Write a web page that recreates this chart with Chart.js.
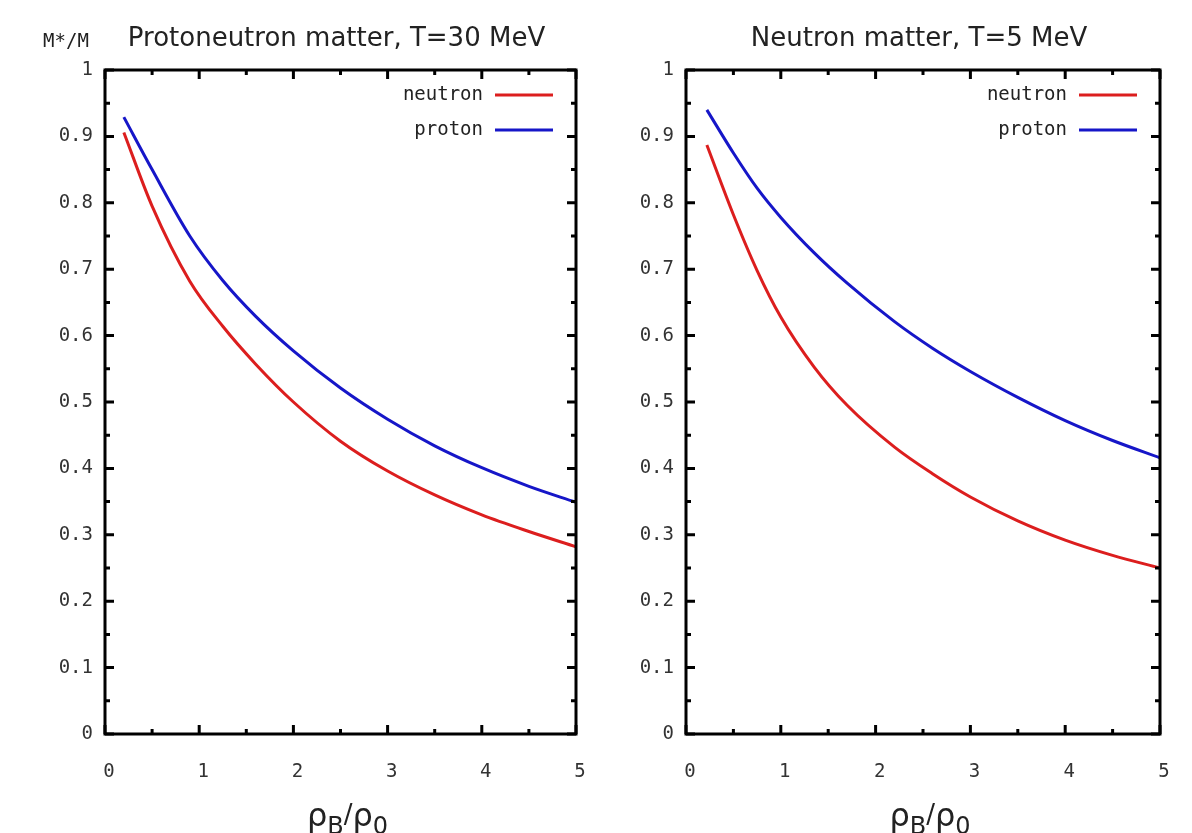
<!DOCTYPE html>
<html>
<head>
<meta charset="utf-8">
<script src="https://cdn.jsdelivr.net/npm/chart.js@4.4.0/dist/chart.umd.min.js"></script>
<style>
  html, body { margin: 0; padding: 0; background: #fff; }
  .panel { position: absolute; top: 0; width: 596px; height: 833px; }
</style>
</head>
<body>
<div class="panel" style="left:0"><canvas id="pnmChart" width="596" height="833"></canvas></div>
<div class="panel" style="left:596px"><canvas id="nmChart" width="596" height="833"></canvas></div>
<script>
// protoneutron matter, T = 30 MeV
const pnmDensity = [0.2, 0.5, 0.9, 1.25, 1.6, 2.0, 2.5, 3.0, 3.5, 4.0, 4.5, 5.0];
const pnmNeutron = [0.906, 0.795, 0.682, 0.614, 0.557, 0.500, 0.441, 0.396, 0.360, 0.330, 0.305, 0.282];
const pnmProton  = [0.929, 0.850, 0.750, 0.683, 0.629, 0.577, 0.521, 0.474, 0.434, 0.401, 0.373, 0.349];

// neutron matter, T = 5 MeV
const nmDensity = [0.22, 0.5, 0.75, 1.0, 1.35, 1.7, 2.2, 2.6, 3.0, 3.5, 4.0, 4.5, 5.0];
const nmNeutron = [0.887, 0.782, 0.698, 0.628, 0.553, 0.495, 0.432, 0.392, 0.357, 0.321, 0.292, 0.269, 0.250];
const nmProton  = [0.940, 0.875, 0.822, 0.778, 0.725, 0.679, 0.621, 0.581, 0.546, 0.507, 0.472, 0.442, 0.416];

const seriesNames = ['neutron', 'proton'];
const seriesColors = ['#dc1e1e', '#1616c8'];

const monoFont = '"DejaVu Sans Mono", monospace';
const sansFont = '"DejaVu Sans", sans-serif';

const toPoints = (xs, ys) => xs.map((x, i) => ({ x: x, y: ys[i] }));

// gnuplot-style box: thick frame, inward major/minor ticks mirrored on every side,
// key in the upper right, titles drawn above the frame
const gnuplotFrame = {
  id: 'gnuplotFrame',
  afterDatasetsDraw(chart, args, opts) {
    const { ctx, chartArea: a, scales: { x, y } } = chart;
    ctx.save();
    ctx.strokeStyle = '#000';
    ctx.lineWidth = 3;
    ctx.lineCap = 'butt';

    const xStep = 0.5, yStep = 0.05;
    for (let i = 0; i <= Math.round((x.max - x.min) / xStep); i++) {
      const v = x.min + i * xStep;
      const len = i % 2 === 0 ? 9 : 5;
      const px = x.getPixelForValue(v);
      ctx.beginPath();
      ctx.moveTo(px, a.bottom); ctx.lineTo(px, a.bottom - len);
      ctx.moveTo(px, a.top); ctx.lineTo(px, a.top + len);
      ctx.stroke();
    }
    for (let i = 0; i <= Math.round((y.max - y.min) / yStep); i++) {
      const v = y.min + i * yStep;
      const len = i % 2 === 0 ? 9 : 5;
      const py = y.getPixelForValue(v);
      ctx.beginPath();
      ctx.moveTo(a.left, py); ctx.lineTo(a.left + len, py);
      ctx.moveTo(a.right, py); ctx.lineTo(a.right - len, py);
      ctx.stroke();
    }
    ctx.strokeRect(a.left, a.top, a.right - a.left, a.bottom - a.top);

    // key
    chart.data.datasets.forEach((ds, i) => {
      const ky = a.top + 25 + i * 35;
      const x1 = a.right - 23, x0 = x1 - 58;
      ctx.strokeStyle = ds.borderColor;
      ctx.lineWidth = 3;
      ctx.beginPath();
      ctx.moveTo(x0, ky); ctx.lineTo(x1, ky);
      ctx.stroke();
      ctx.fillStyle = '#222';
      ctx.font = '19px ' + monoFont;
      ctx.textAlign = 'right';
      ctx.textBaseline = 'middle';
      ctx.fillText(ds.label, x0 - 12, ky);
    });

    // title above the frame
    const cx = (a.left + a.right) / 2;
    ctx.fillStyle = '#222';
    ctx.font = '26px ' + sansFont;
    ctx.textAlign = 'center';
    ctx.textBaseline = 'middle';
    ctx.fillText(opts.title, cx - 4, 39);

    if (opts.yTitle) {
      ctx.font = '19px ' + monoFont;
      ctx.fillText(opts.yTitle, 66, 42);
    }

    // x axis label: rho_B / rho_0
    const parts = [
      { t: 'ρ', size: 32, dy: 0 },
      { t: 'B', size: 24, dy: 8 },
      { t: '/', size: 26, dy: -3 },
      { t: 'ρ', size: 32, dy: 0 },
      { t: '0', size: 24, dy: 8 }
    ];
    let total = 0;
    parts.forEach(p => {
      ctx.font = p.size + 'px ' + sansFont;
      p.w = ctx.measureText(p.t).width;
      total += p.w;
    });
    let tx = cx + 7 - total / 2;
    ctx.textAlign = 'left';
    ctx.textBaseline = 'alphabetic';
    parts.forEach(p => {
      ctx.font = p.size + 'px ' + sansFont;
      ctx.fillText(p.t, tx, 826 + p.dy);
      tx += p.w;
    });
    ctx.restore();
  }
};

function makePanel(canvasId, xs, neutron, proton, title, yTitle, axisWidth, rightPad) {
  const curves = [neutron, proton];
  return new Chart(document.getElementById(canvasId).getContext('2d'), {
    type: 'line',
    data: {
      datasets: seriesNames.map((name, i) => ({
        label: name,
        data: toPoints(xs, curves[i]),
        borderColor: seriesColors[i],
        borderWidth: 3,
        pointRadius: 0,
        fill: false,
        cubicInterpolationMode: 'monotone'
      }))
    },
    options: {
      responsive: false,
      animation: false,
      layout: { padding: { left: 0, right: rightPad, top: 70, bottom: 0 } },
      scales: {
        x: {
          type: 'linear',
          min: 0,
          max: 5,
          ticks: {
            stepSize: 1,
            padding: 27,
            labelOffset: 4,
            color: '#333',
            font: { family: monoFont, size: 19 }
          },
          grid: { display: false, drawTicks: false },
          border: { display: false },
          afterFit: (scale) => {
            scale.height = 99;
            scale.paddingLeft = 0;
            scale.paddingRight = 0;
          }
        },
        y: {
          min: 0,
          max: 1,
          ticks: {
            stepSize: 0.1,
            padding: 12,
            color: '#333',
            font: { family: monoFont, size: 19 },
            callback: (v) => String(Math.round(v * 10) / 10)
          },
          grid: { display: false, drawTicks: false },
          border: { display: false },
          afterFit: (scale) => {
            scale.width = axisWidth;
            scale.paddingTop = 0;
            scale.paddingBottom = 0;
          }
        }
      },
      plugins: {
        legend: { display: false },
        tooltip: { enabled: false },
        gnuplotFrame: { title: title, yTitle: yTitle }
      }
    },
    plugins: [gnuplotFrame]
  });
}

makePanel('pnmChart', pnmDensity, pnmNeutron, pnmProton,
  'Protoneutron matter, T=30 MeV', 'M*/M', 105, 20);
makePanel('nmChart', nmDensity, nmNeutron, nmProton,
  'Neutron matter, T=5 MeV', null, 90, 32);
</script>
</body>
</html>
